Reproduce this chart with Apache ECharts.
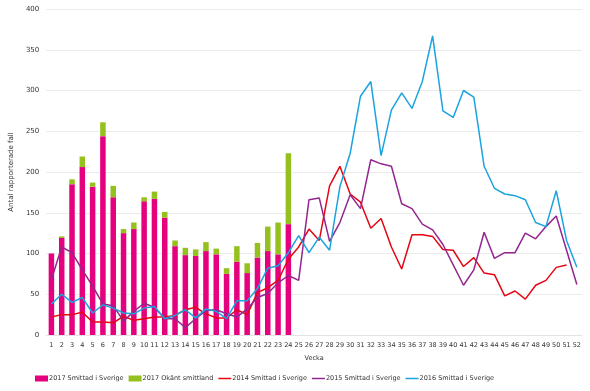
<!DOCTYPE html>
<html>
<head>
<meta charset="utf-8">
<script src="https://cdn.jsdelivr.net/npm/echarts@6/dist/echarts.min.js"></script>
<style>html,body{margin:0;padding:0;background:#fff}#c{width:590px;height:391px}</style>
</head>
<body>
<div id="c"></div>
<script>
var weeks = [];
for (var i = 1; i <= 52; i++) weeks.push(String(i));

var smittad2017 = [100,119,185,206,182,244,169,125,130,164,167,144,109,98,97,103,99,75,90,76,95,103,99,136];
var okant2017   = [0,2,6,13,5,17,14,5,8,5,9,7,7,9,8,11,7,7,19,12,18,30,39,87];

var smittad2014 = [22,25,25,28,16,16,15,23,18,20,22,22,24,31,34,26,21,21,31,25,52,58,67,93,108,130,116,183,207,173,163,131,143,108,81,123,123,121,105,104,84,95,76,74,48,54,44,61,67,83,86,null];
var smittad2015 = [68,108,101,80,60,38,36,17,29,39,34,20,20,9,20,30,31,26,22,32,46,51,64,73,67,166,168,115,138,172,155,215,210,207,161,155,136,129,111,86,61,80,126,94,101,101,125,118,133,146,104,62];
var smittad2016 = [38,50,40,46,27,37,33,27,26,33,35,20,24,31,21,32,29,20,42,42,57,82,85,101,122,101,120,104,182,223,293,311,220,276,297,278,311,367,275,267,300,292,207,180,173,171,166,138,133,177,116,83];

var yTicks = [0,50,100,150,200,250,300,350,400];

var names = ['2017 Smittad i Sverige','2017 Okänt smittland','2014 Smittad i Sverige','2015 Smittad i Sverige','2016 Smittad i Sverige'];
var FONT = 'DejaVu Sans';
var lineIcon = 'path://M0,0H26V3H0Z';

var chart = echarts.init(document.getElementById('c'), null, {renderer:'canvas'});
chart.setOption({
  animation: false,
  textStyle: {fontFamily: FONT},
  grid: {left: 42, right: 8, top: 9, bottom: 56, containLabel: false},
  legend: {
    left: 35, top: 375, padding: 0,
    itemWidth: 13, itemHeight: 6, itemGap: 5,
    textStyle: {fontSize: 6.5, color: '#333333', fontFamily: FONT, padding: [0,0,0,-4]},
    data: [
      {name: names[0], icon: 'rect'},
      {name: names[1], icon: 'rect'},
      {name: names[2], icon: lineIcon},
      {name: names[3], icon: lineIcon},
      {name: names[4], icon: lineIcon}
    ]
  },
  xAxis: {
    type: 'category', data: weeks, boundaryGap: true,
    name: 'Vecka', nameLocation: 'middle', nameGap: 20,
    nameTextStyle: {fontSize: 6.5, color: '#333333', fontFamily: FONT},
    axisTick: {show: false},
    axisLine: {lineStyle: {color: '#e3e3e3', width: 1}},
    axisLabel: {interval: 0, fontSize: 6.5, color: '#333333', margin: 7, fontFamily: FONT, hideOverlap: false}
  },
  yAxis: {
    type: 'value', min: yTicks[0], max: yTicks[yTicks.length-1], interval: 50,
    name: 'Antal rapporterade fall', nameLocation: 'middle', nameGap: 25,
    nameTextStyle: {fontSize: 7, color: '#333333', fontFamily: FONT},
    axisLine: {show: false}, axisTick: {show: false},
    axisLabel: {fontSize: 7, color: '#333333', margin: 7, fontFamily: FONT},
    splitLine: {lineStyle: {color: '#ebebeb', width: 1}}
  },
  series: [
    {name: names[0], type: 'bar', stack: 'b', barWidth: 5.5, data: smittad2017, itemStyle: {color: '#E5007D'}},
    {name: names[1], type: 'bar', stack: 'b', barWidth: 5.5, data: okant2017, itemStyle: {color: '#95C11F'}},
    {name: names[2], type: 'line', data: smittad2014, symbol: 'none', lineStyle: {color: '#E30613', width: 1.5}, itemStyle: {color: '#E30613'}},
    {name: names[3], type: 'line', data: smittad2015, symbol: 'none', lineStyle: {color: '#93268F', width: 1.5}, itemStyle: {color: '#93268F'}},
    {name: names[4], type: 'line', data: smittad2016, symbol: 'none', lineStyle: {color: '#1BA3E0', width: 1.5}, itemStyle: {color: '#1BA3E0'}}
  ]
});
</script>
</body>
</html>
